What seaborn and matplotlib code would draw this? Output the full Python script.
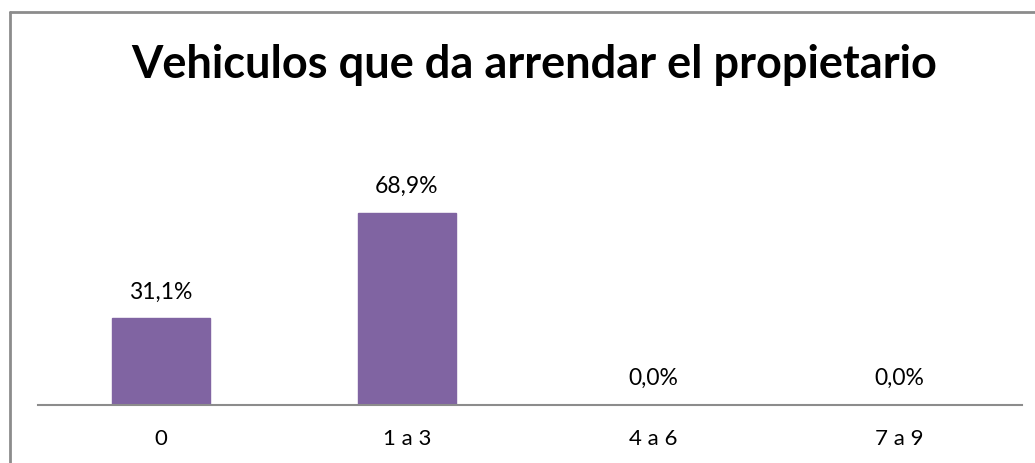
import matplotlib
matplotlib.use("Agg")
import matplotlib.pyplot as plt
from matplotlib.lines import Line2D
import pandas as pd
import seaborn as sns

# Datos del gráfico
categorias = ["0", "1 a 3", "4 a 6", "7 a 9"]
porcentajes = [31.1, 68.9, 0.0, 0.0]
titulo = "Vehiculos que da arrendar el propietario"

df = pd.DataFrame({"categoria": categorias, "porcentaje": porcentajes})

sns.set_style("white")
plt.rcParams["font.family"] = ["Lato", "DejaVu Sans"]
plt.rcParams["text.color"] = "black"
plt.rcParams["xtick.color"] = "black"

fig = plt.figure(figsize=(10.35, 4.64), dpi=100)
ax = fig.add_axes([38 / 1035, 1 - 405.7 / 464, 984 / 1035, (405.7 - 183) / 464])

sns.barplot(data=df, x="categoria", y="porcentaje", color="#8064A2",
            saturation=1, width=0.4, edgecolor="#8064A2", ax=ax)

ax.set_ylim(0, 80)
ax.set_xlim(-0.5, 3.5)
ax.set_xlabel("")
ax.set_ylabel("")
ax.set_yticks([])
for s in ["top", "right", "left"]:
    ax.spines[s].set_visible(False)
ax.spines["bottom"].set_color("#8c8c8c")
ax.spines["bottom"].set_linewidth(1.5)
ax.tick_params(axis="x", length=0, pad=17, labelsize=16, labelcolor="black")

# etiquetas de datos
for i, v in enumerate(porcentajes):
    ax.annotate(f"{v:.1f}%".replace(".", ","), (i, v), xytext=(0, 12),
                textcoords="offset points", ha="center", va="bottom",
                fontsize=16.5, color="black")

fig.text(534 / 1035, 1 - 78 / 464, titulo, ha="center", va="baseline",
         fontsize=32.5, fontweight="bold", color="black")

# borde del área del gráfico (solo arriba e izquierda visibles)
x0, y0 = 9.5 / 1035, 1 - 13 / 464
fig.lines.append(Line2D([x0, 1.0], [y0, y0], transform=fig.transFigure,
                        color="#8c8c8c", linewidth=2))
fig.lines.append(Line2D([x0, x0], [0, y0], transform=fig.transFigure,
                        color="#8c8c8c", linewidth=2))

fig.savefig("out.png", dpi=100)
